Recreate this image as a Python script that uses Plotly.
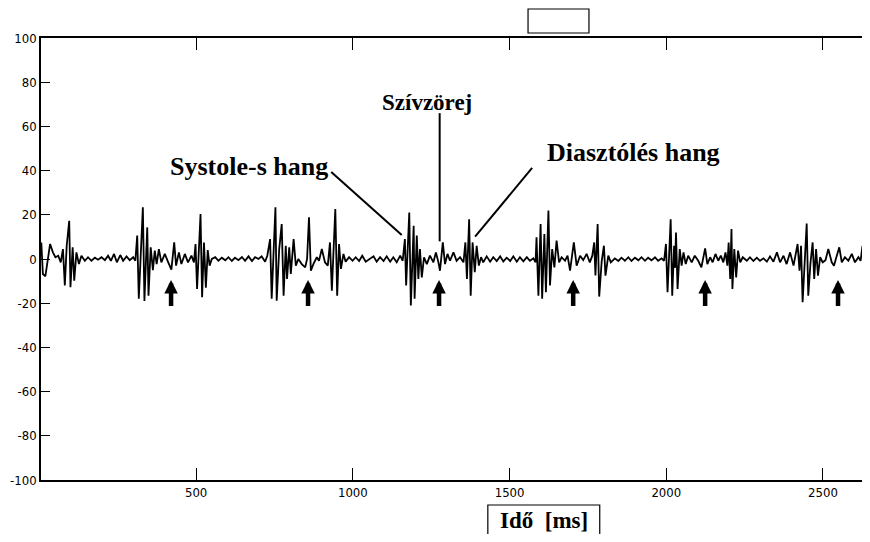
import plotly.graph_objects as go

# ---- signal (time in ms, amplitude) ----
time_ms = (
    [6, 11, 19, 28, 34, 43, 51, 60, 68, 75, 81, 87, 95, 99, 106, 111, 118, 126, 134]
    + [145, 155, 166, 177, 187, 198, 209, 219, 228, 238, 247, 258, 267, 278, 288, 299, 306]
    + [312, 317, 323, 330, 335, 341, 344, 348, 355, 362, 368, 374, 381, 389]
    + [400, 411, 421, 430, 436, 445, 453, 464, 474, 485]
    + [493, 498, 503, 514, 519, 525, 531, 537, 543, 550]
    + [561, 571, 582, 593, 603, 614, 624, 635, 646, 656, 667, 678, 688, 699, 709, 720, 727]
    + [736, 741, 753, 757, 765, 773, 779, 786, 790, 797, 802, 811, 818, 826, 837, 848, 854, 860, 866, 874, 885, 892, 901, 911, 920]
    + [927, 933, 944, 950, 956, 962, 970, 977]
    + [988, 999, 1009, 1020, 1030, 1041, 1052, 1066, 1076, 1087, 1098, 1108, 1119, 1129, 1140, 1151, 1159]
    + [1166, 1170, 1180, 1185, 1194, 1197, 1204, 1209, 1214, 1220, 1227, 1236, 1246, 1257, 1265, 1273, 1278, 1287, 1294, 1302, 1310, 1321, 1331, 1342, 1353]
    + [1359, 1364, 1371, 1376, 1382, 1389, 1395, 1402, 1409, 1416]
    + [1427, 1438, 1448, 1459, 1470, 1480, 1491, 1502, 1512, 1523, 1533, 1544, 1555, 1565, 1576, 1583]
    + [1586, 1592, 1599, 1604, 1611, 1616, 1624, 1629, 1636, 1643, 1650, 1658, 1666, 1677, 1685, 1693, 1705, 1714, 1725, 1735, 1746, 1756, 1764]
    + [1770, 1774, 1781, 1786, 1794, 1801, 1806, 1815, 1823]
    + [1836, 1847, 1857, 1868, 1879, 1889, 1900, 1911, 1921, 1932, 1942, 1953, 1964, 1974, 1985, 1993]
    + [1999, 2004, 2014, 2019, 2025, 2028, 2031, 2036, 2043, 2049, 2055, 2062, 2070, 2081, 2091, 2102, 2112]
    + [2124, 2131, 2140, 2148, 2157, 2166, 2174, 2182, 2189, 2195]
    + [2199, 2204, 2208, 2211, 2217, 2223, 2229, 2236, 2244]
    + [2257, 2267, 2278, 2289, 2299, 2310, 2321, 2331, 2342, 2353, 2363, 2374, 2384, 2395, 2406, 2413]
    + [2419, 2425, 2430, 2435, 2442, 2448, 2453, 2460, 2467, 2472, 2478, 2484, 2491, 2499, 2508, 2517, 2528, 2535, 2544, 2552, 2560, 2570, 2581, 2592, 2602, 2613]
    + [2620, 2626, 2630, 2636, 2642, 2647, 2652]
)
amplitude = (
    [7.5, -6.8, -7.8, 0, 6.8, 3, 0.8, 1.5, -1.5, 4.5, -12, 6, 17.3, -12.8, 5.3, -9.8, 3, -2.3, 1.5]
    + [-0.8, 0.8, -0.8, 0.6, -0.3, 0.8, -0.5, 1.5, -0.8, 2.3, -1.5, 1.8, -0.8, 1.2, -0.5, 0.8, -0.8]
    + [10.6, -18, 4, 23.4, -19, 5, 14.3, -16.6, 5.3, -5, 3.8, -2.3, 4.5, -1.5]
    + [2.3, -1.5, -4.8, 7.5, -3, 3, -2.3, 2.3, -1.5, 1.5]
    + [-1.5, 6.8, -13.6, 20.4, -17.3, 7.5, -13, 4, -3, 0]
    + [0.8, -0.8, 0.6, -0.6, 0.8, -0.9, 0.6, -0.5, 0.9, -0.8, 1.2, -0.9, 0.8, 0, 1.2, -1.2, 1.5]
    + [9, -18, 23.4, -18.9, 4.5, 15.8, -16.6, 6, -9, 5.3, -6.8, 9, -3, 0, -2.3, -3.8, 0, 18.9, -5.3, -2.3, 0.8, -0.8, 4.5, -1.5, -3]
    + [7.5, -14.3, 22.6, -16.6, 6.8, -4.5, 2.3, -1.2]
    + [0.8, -0.8, 0.8, -0.9, 1.5, -1.2, -0.3, 1.2, -1.2, 0.8, -0.9, 1.2, -1.2, 0.8, -1.5, 1.5, -0.8]
    + [9, -12, 21, -21, 15, -18, 10.6, -9, 4.5, -8.3, 0.8, -2.3, 1.5, -1.5, 3, -1.5, -5.3, 7.5, -2.3, 2.3, -0.8, 3, -0.8, 0.8, -1.5]
    + [7.5, -9, 18, -16.6, 7.5, -6, 6, -3, 0.8, -1.5]
    + [1.2, -1.2, 0.8, -0.9, 1.2, -1.1, 0.6, -0.9, 1.2, -1.2, 0.8, -1.1, 0.8, -0.8, 0.3, -1.5]
    + [9.8, -16.6, 15.8, -18, 11.3, -15, 21.9, -12, 4.5, -3.8, 8.3, -1.5, 0.8, -0.8, 1.5, -5.3, 7.5, -3, 1.5, -0.5, 2.3, -1.5, 1.5]
    + [7.5, -7.5, 15.8, -17, -1, 6, -7.5, 1.5, -1.5]
    + [0.3, -0.9, 0.6, -0.8, 0.8, -0.9, 0.6, -0.6, 0.8, -0.8, 0.6, -0.6, 0.8, -0.8, 0.3, -0.8]
    + [6.8, -15, 18, -16.6, 6, -4, 12, -13.6, 4.5, -3, 3, -2.3, 1.5, -1.5, 1.5, -0.8, -3.8]
    + [4.8, -2.3, 0.8, -1.5, 2.3, -0.8, 1.5, -1.5, 3, -3]
    + [7.5, -9, 13.6, -13.6, 4.5, -8.3, 3.8, -1.5, 0.8]
    + [-0.8, 0.8, -0.9, 0.6, -0.8, 0.3, -1.2, 1.2, -1.2, 3, -1.5, 1.5, -2.3, 3, -3, 1.5]
    + [6.8, -5.3, 6, -19.6, -3, 16, -16.6, -2, 7.5, -9, 4.5, -7.5, 0.8, -1.5, -0.5, 4.5, -1.5, -3, 1.5, 5.3, -1.5, 0.8, -0.8, 2.3, -1.5, 0.8]
    + [-0.8, 6, -7.5, 14.3, -12.8, 4.5, -3]
)

# murmur markers (arrow positions, ms)
arrow_times = [420, 857, 1275, 1703, 2124, 2548]

# axis ticks
x_tick_vals = [500, 1000, 1500, 2000, 2500]
x_tick_text = ["500", "1000", "1500", "2000", "2500"]
y_tick_vals = [-100, -80, -60, -40, -20, 0, 20, 40, 60, 80, 100]
y_tick_text = ["-100", "-80", "-60", "-40", "-20", "0", "20", "40", "60", "80", "100"]

# labels
label_systole = "Systole-s hang"
label_murmur = "Szívzörej"
label_diastole = "Diasztólés hang"
x_title = "Idő&nbsp;&nbsp;[ms]"

tick_font = dict(family="Liberation Sans Narrow, DejaVu Sans Condensed, Arial Narrow, sans-serif",
                 size=13, color="black")
serif = "Liberation Serif, Times New Roman, serif"

fig = go.Figure(
    go.Scatter(x=time_ms, y=amplitude, mode="lines",
               line=dict(color="black", width=1.8), hoverinfo="skip")
)

annotations = []
for t in arrow_times:
    annotations.append(dict(
        x=t, y=-9.5, ax=t, ay=-22, xref="x", yref="y", axref="x", ayref="y",
        text="", showarrow=True, arrowhead=2, arrowsize=0.6, arrowwidth=4.5,
        arrowcolor="black", standoff=0,
    ))

annotations += [
    dict(x=928, y=42, xref="x", yref="y", text="<b>" + label_systole + "</b>",
         showarrow=False, xanchor="right", yanchor="middle",
         font=dict(family=serif, size=26, color="black")),
    dict(x=1237, y=71, xref="x", yref="y", text="<b>" + label_murmur + "</b>",
         showarrow=False, xanchor="center", yanchor="middle",
         font=dict(family=serif, size=23, color="black")),
    dict(x=1613, y=48, xref="x", yref="y", text="<b>" + label_diastole + "</b>",
         showarrow=False, xanchor="left", yanchor="middle",
         font=dict(family=serif, size=26, color="black")),
    dict(x=0.6068, y=-0.091, xref="paper", yref="paper", text="<b>" + x_title + "</b>",
         showarrow=False, xanchor="center", yanchor="middle",
         font=dict(family=serif, size=23, color="black")),
]

shapes = [
    # callout lines
    dict(type="line", xref="x", yref="y", x0=931, y0=39.4, x1=1156, y1=10.9,
         line=dict(color="black", width=2)),
    dict(type="line", xref="x", yref="y", x0=1277, y0=66, x1=1277, y1=8,
         line=dict(color="black", width=2)),
    dict(type="line", xref="x", yref="y", x0=1572, y0=41.2, x1=1390, y1=10.1,
         line=dict(color="black", width=2)),
    # empty title box
    dict(type="rect", xref="paper", yref="paper", x0=0.5875, x1=0.661, y0=1.0113, y1=1.0656,
         line=dict(color="black", width=1.2)),
    # x-label box
    dict(type="rect", xref="paper", yref="paper", x0=0.539, x1=0.674, y0=-0.16, y1=-0.0566,
         line=dict(color="black", width=1.2)),
]

# the page body adds an 8 px offset; size and margins compensate so nothing overflows
fig.update_layout(
    width=862, height=526,
    margin=dict(l=33, r=0, t=30, b=54, autoexpand=False),
    paper_bgcolor="white", plot_bgcolor="white",
    showlegend=False,
    annotations=annotations,
    shapes=shapes,
    xaxis=dict(range=[5, 2650], tickvals=x_tick_vals, ticktext=x_tick_text,
               ticks="inside", ticklen=12, tickwidth=1.2, tickcolor="black",
               showline=True, linecolor="black", linewidth=1.6, mirror="ticks",
               showgrid=False, zeroline=False, tickfont=tick_font, automargin=False),
    yaxis=dict(range=[-100, 100], tickvals=y_tick_vals, ticktext=y_tick_text,
               ticks="inside", ticklen=9, tickwidth=1.2, tickcolor="black",
               showline=True, linecolor="black", linewidth=1.6, mirror=False,
               showgrid=False, zeroline=False, tickfont=tick_font, automargin=False),
)

fig.write_html("out.html")
